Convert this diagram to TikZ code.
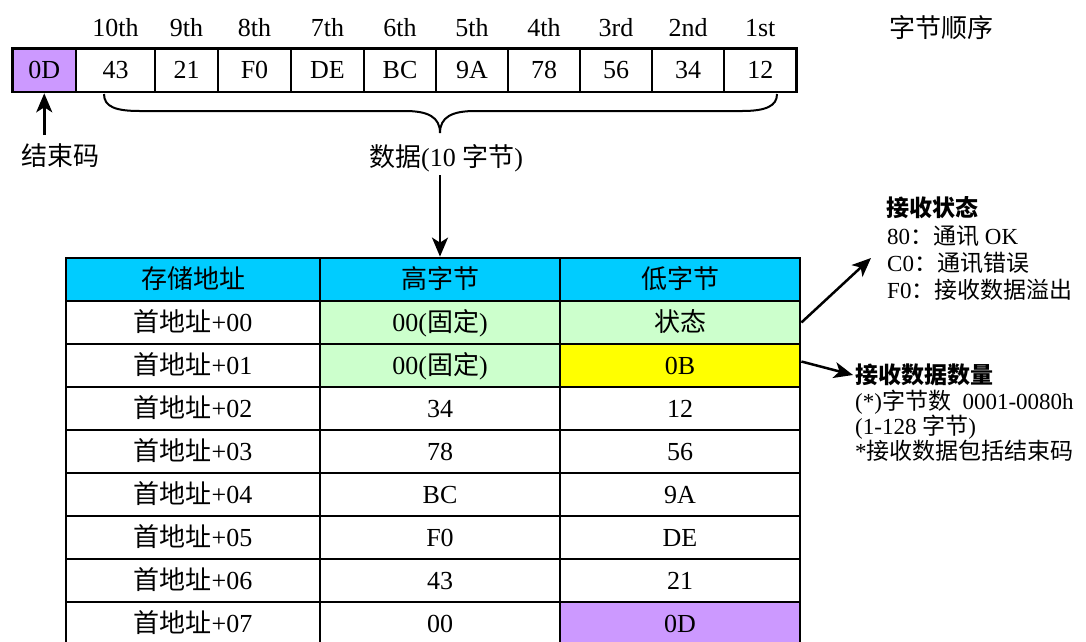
\documentclass[tikz,border=0pt]{standalone}
\usepackage{fontspec}
\setmainfont{Liberation Serif}
\newfontfamily\cjk{Noto Sans CJK SC}
\usetikzlibrary{arrows.meta}
\definecolor{cpurple}{HTML}{CC99FF}
\definecolor{ccyan}{HTML}{00CCFF}
\definecolor{cgreen}{HTML}{CCFFCC}
\definecolor{cyellow}{HTML}{FFFF00}
\newcommand\zh[1]{{\cjk #1}}
\newcommand\tabrow[7]{%
  \node[tcell, minimum width=254pt] (a#1) at (193,#2) {#3};
  \node[tcell, minimum width=240pt, fill=#5] (h#1) at (440,#2) {#4};
  \node[tcell, minimum width=240pt, fill=#7] (l#1) at (680,#2) {#6};
}
\tikzset{
  bigfont/.style={font=\fontsize{26}{30}\selectfont},
  bytecell/.style={draw, line width=2.6pt, minimum height=43.5pt, inner sep=0pt,
    text height=20pt, text depth=3pt, bigfont},
  tcell/.style={draw, line width=2.8pt, minimum height=43pt, inner sep=0pt,
    text height=20pt, text depth=3pt, bigfont},
  ordlbl/.style={inner sep=0pt, bigfont},
  arr/.style={line width=2.5pt, -{Stealth[length=19pt,width=16pt,inset=5pt]}},
  note/.style={anchor=west, inner sep=0pt, font=\fontsize{23}{26}\selectfont},
  notehead/.style={note, font=\fontsize{23}{26}\selectfont\bfseries},
}
\begin{document}
\begin{tikzpicture}[x=1pt,y=-1pt]
\useasboundingbox (0,0) rectangle (1086,641);

% byte row
\node[bytecell, minimum width=63.5pt, fill=cpurple] (c0) at (44.25,70.25) {0D};
\node[bytecell, minimum width=79pt] (c1) at (115.5,70.25) {43};
\node[bytecell, minimum width=63pt] (c2) at (186.5,70.25) {21};
\node[bytecell, minimum width=73pt] (c3) at (254.5,70.25) {F0};
\node[bytecell, minimum width=73pt] (c4) at (327.5,70.25) {DE};
\node[bytecell, minimum width=72pt] (c5) at (400,70.25) {BC};
\node[bytecell, minimum width=72pt] (c6) at (472,70.25) {9A};
\node[bytecell, minimum width=72pt] (c7) at (544,70.25) {78};
\node[bytecell, minimum width=72pt] (c8) at (616,70.25) {56};
\node[bytecell, minimum width=72pt] (c9) at (688,70.25) {34};
\node[bytecell, minimum width=72.5pt] (c10) at (760.25,70.25) {12};

% ordinals
\node[ordlbl] (o1) at (115.5,28) {10th};
\node[ordlbl] (o2) at (186.5,28) {9th};
\node[ordlbl] (o3) at (254.5,28) {8th};
\node[ordlbl] (o4) at (327.5,28) {7th};
\node[ordlbl] (o5) at (400,28) {6th};
\node[ordlbl] (o6) at (472,28) {5th};
\node[ordlbl] (o7) at (544,28) {4th};
\node[ordlbl] (o8) at (616,28) {3rd};
\node[ordlbl] (o9) at (688,28) {2nd};
\node[ordlbl] (o10) at (760.25,28) {1st};
\node[ordlbl] (order) at (941,28) {\zh{字节顺序}};

% brace
\draw[line width=2pt] (104,94) .. controls (104,107) and (116,111) .. (140,111)
  -- (405,111) .. controls (428,111) and (440,117) .. (440,133)
  .. controls (440,117) and (452,111) .. (475,111)
  -- (742,111) .. controls (766,111) and (777,106) .. (777,94);

% end code arrow
\coordinate (e0) at (44.25,135);
\draw[arr] (e0) -- (c0.south);
\node[ordlbl] (endlbl) at (60,156) {\zh{结束码}};

% data label and arrow
\node[ordlbl] (datalbl) at (446,158) {\zh{数据}(10 \zh{字节})};
\coordinate (d0) at (440,175);

% table
\node[tcell, minimum width=254pt, fill=ccyan] (ah) at (193,279.5) {\zh{存储地址}};
\node[tcell, minimum width=240pt, fill=ccyan] (hh) at (440,279.5) {\zh{高字节}};
\node[tcell, minimum width=240pt, fill=ccyan] (lh) at (680,279.5) {\zh{低字节}};
\tabrow{0}{322.5}{\zh{首地址}+00}{00(\zh{固定})}{cgreen}{\zh{状态}}{cgreen}
\tabrow{1}{365.5}{\zh{首地址}+01}{00(\zh{固定})}{cgreen}{0B}{cyellow}
\tabrow{2}{408.5}{\zh{首地址}+02}{34}{white}{12}{white}
\tabrow{3}{451.5}{\zh{首地址}+03}{78}{white}{56}{white}
\tabrow{4}{494.5}{\zh{首地址}+04}{BC}{white}{9A}{white}
\tabrow{5}{537.5}{\zh{首地址}+05}{F0}{white}{DE}{white}
\tabrow{6}{580.5}{\zh{首地址}+06}{43}{white}{21}{white}
\tabrow{7}{623.5}{\zh{首地址}+07}{00}{white}{0D}{cpurple}

\draw[arr] (d0) -- (hh.north);

% notes
\node[notehead] (s0) at (886,208) {\zh{接收状态}};
\node[note] (s1) at (887,236) {80\zh{：通讯} OK};
\node[note] (s2) at (887,263) {C0\zh{：通讯错误}};
\node[note] (s3) at (887,290) {F0\zh{：接收数据溢出}};
\coordinate (t1) at (871,258);
\draw[arr] (l0.east) -- (t1);

\node[notehead] (q0) at (855,375) {\zh{接收数据数量}};
\node[note] (q1) at (855,402) {(*)\zh{字节数}\ \ 0001-0080h};
\node[note] (q2) at (855,427) {(1-128 \zh{字节})};
\node[note] (q3) at (855,451) {*\zh{接收数据包括结束码}};
\draw[arr] ([yshift=4pt]l1.east) -- ([xshift=-2pt]q0.west);
\end{tikzpicture}
\end{document}
